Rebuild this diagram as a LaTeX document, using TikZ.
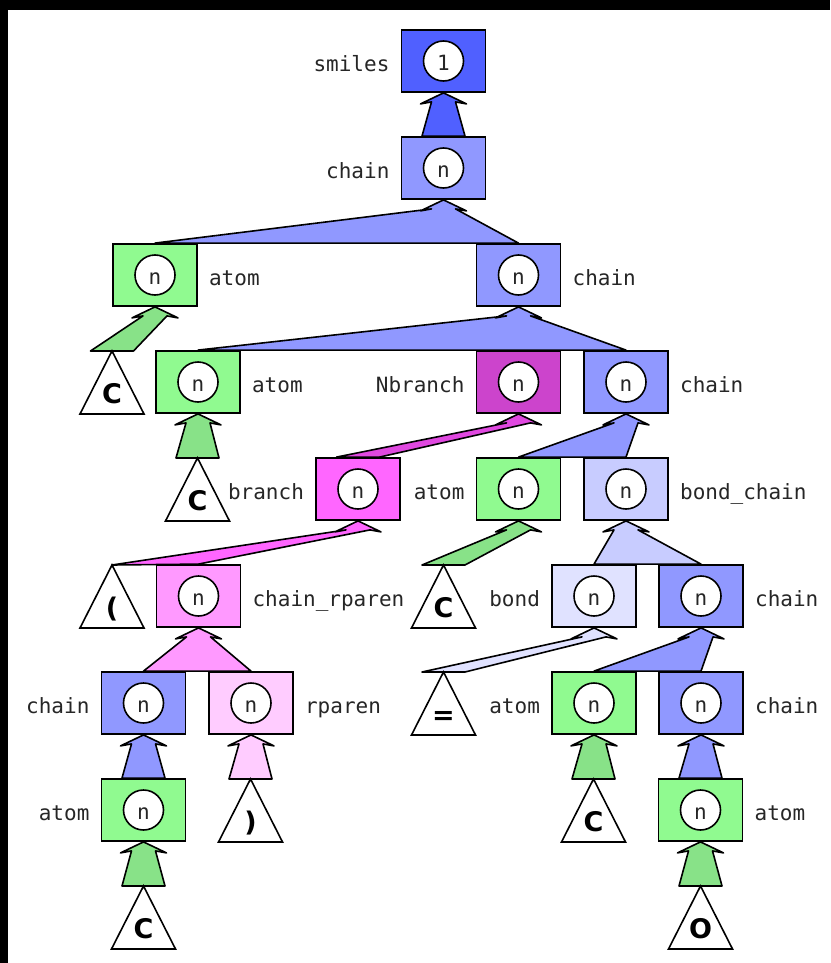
\documentclass[tikz,border=0pt]{standalone}
\usepackage{fontspec}
\usetikzlibrary{calc,positioning}
\newfontfamily\lblfont{DejaVu Sans Mono}
\newfontfamily\leaffont{DejaVu Sans}

\definecolor{smilesblue}{RGB}{80,96,255}
\definecolor{chainblue}{RGB}{144,152,255}
\definecolor{atomgreen}{RGB}{144,250,144}
\definecolor{arrowgreen}{RGB}{136,226,136}
\definecolor{nbranchcol}{RGB}{204,68,204}
\definecolor{nbarrowcol}{RGB}{224,72,224}
\definecolor{branchcol}{RGB}{255,102,255}
\definecolor{chrpcol}{RGB}{255,153,255}
\definecolor{rparencol}{RGB}{255,204,255}
\definecolor{bchaincol}{RGB}{200,204,255}
\definecolor{bondcol}{RGB}{224,226,255}

\pgfdeclarelayer{bg}
\pgfdeclarelayer{arrowlayer}
\pgfsetlayers{bg,arrowlayer,main}

% a grammar node: coloured box, white ring with its multiplicity, side label
\newcommand\tbox[7]{%
  \node[box, fill=#4] (#1) at (#2,#3) {};
  \node[ring] (#1-r) at (#1.center) {#5};
  \node[lbl, #6=11pt of #1] (#1-l) {#7};}

% a terminal: triangle hanging from its apex, symbol near the base
\newcommand\leaf[4]{%
  \coordinate (#1) at (#2,#3);
  \draw[leafline] (#1) -- ++(-32,63) -- ++(64,0) -- cycle;
  \node[leaftxt] (#1-s) at ($(#1)+(0,52)$) {#4};}

% fat upward arrow from a base segment to the bottom of a parent box
\newcommand\fatarrow[4]{%
  \begin{pgfonlayer}{arrowlayer}
  \filldraw[fat, fill=#1] (#3) -- ($(#2.south)+(-12,9)$) -- ($(#2.south)+(-23,11)$)
    -- (#2.south) -- ($(#2.south)+(23,11)$) -- ($(#2.south)+(12,9)$) -- (#4) -- cycle;
  \end{pgfonlayer}}
\newcommand\fatone[3]{\fatarrow{#1}{#2}{$(#3)+(-21.5,0)$}{$(#3)+(21.5,0)$}}

\begin{document}
\begin{tikzpicture}[x=1pt,y=-1pt,
  box/.style={draw=black, line width=1.8pt, minimum width=84pt, minimum height=62pt, inner sep=0pt},
  ring/.style={circle, draw=black, fill=white, line width=1.6pt, minimum size=40pt, inner sep=0pt,
    font=\lblfont\fontsize{21}{21}\selectfont, text height=19pt, text depth=0pt, text=black!85},
  lbl/.style={inner sep=0pt, font=\lblfont\fontsize{21}{21}\selectfont, text height=21pt,
    text depth=0pt, text=black!85},
  leafline/.style={draw=black, line width=1.6pt, line join=miter, fill=white},
  leaftxt/.style={anchor=base, inner sep=0pt, font=\leaffont\bfseries\fontsize{27}{27}\selectfont},
  fat/.style={draw=black, line width=1.6pt, line join=round}]
\useasboundingbox (0,0) rectangle (830,963);
\begin{pgfonlayer}{bg}
  \fill[black] (0,0) rectangle (830,963);
  \fill[white] (8,10) rectangle (830,963);
\end{pgfonlayer}

% boxes
\tbox{sm}{443.5}{61}{smilesblue}{1}{left}{smiles}
\tbox{c1}{443.5}{168}{chainblue}{n}{left}{chain}
\tbox{a2}{155}{275}{atomgreen}{n}{right}{atom}
\tbox{c2}{518.5}{275}{chainblue}{n}{right}{chain}
\tbox{a3}{198}{382}{atomgreen}{n}{right}{atom}
\tbox{nb}{518.5}{382}{nbranchcol}{n}{left}{Nbranch}
\tbox{c3}{626}{382}{chainblue}{n}{right}{chain}
\tbox{br}{358}{489}{branchcol}{n}{left}{branch}
\tbox{a4}{518.5}{489}{atomgreen}{n}{left}{atom}
\tbox{bc}{626}{489}{bchaincol}{n}{right}{bond\_chain}
\tbox{cr}{198.5}{596}{chrpcol}{n}{right}{chain\_rparen}
\tbox{bd}{594}{596}{bondcol}{n}{left}{bond}
\tbox{c5}{701}{596}{chainblue}{n}{right}{chain}
\tbox{c6}{143.5}{703}{chainblue}{n}{left}{chain}
\tbox{rp}{251}{703}{rparencol}{n}{right}{rparen}
\tbox{a6}{594}{703}{atomgreen}{n}{left}{atom}
\tbox{c6r}{701}{703}{chainblue}{n}{right}{chain}
\tbox{a7}{143.5}{810}{atomgreen}{n}{left}{atom}
\tbox{a7r}{700.5}{810}{atomgreen}{n}{right}{atom}

% terminals
\leaf{t3}{112}{351}{C}
\leaf{t4}{197.5}{458}{C}
\leaf{t5a}{112}{565}{(}
\leaf{t5b}{443.5}{565}{C}
\leaf{t6}{443.5}{672}{=}
\leaf{t7a}{250.5}{779}{)}
\leaf{t7b}{593.5}{779}{C}
\leaf{t8a}{143.5}{886}{C}
\leaf{t8b}{700.5}{886}{O}

% derivation arrows
\fatone{smilesblue}{sm}{c1.north}
\fatarrow{chainblue}{c1}{a2.north}{c2.north}
\fatone{arrowgreen}{a2}{t3}
\fatarrow{chainblue}{c2}{a3.north}{c3.north}
\fatone{arrowgreen}{a3}{t4}
\fatone{nbarrowcol}{nb}{br.north}
\fatarrow{chainblue}{c3}{a4.north}{bc.north}
\fatarrow{branchcol}{br}{t5a}{cr.north}
\fatone{arrowgreen}{a4}{t5b}
\fatarrow{bchaincol}{bc}{bd.north}{c5.north}
\fatarrow{chrpcol}{cr}{c6.north}{rp.north}
\fatone{bondcol}{bd}{t6}
\fatarrow{chainblue}{c5}{a6.north}{c6r.north}
\fatone{chainblue}{c6}{a7.north}
\fatone{rparencol}{rp}{t7a}
\fatone{arrowgreen}{a6}{t7b}
\fatone{chainblue}{c6r}{a7r.north}
\fatone{arrowgreen}{a7}{t8a}
\fatone{arrowgreen}{a7r}{t8b}
\end{tikzpicture}
\end{document}
